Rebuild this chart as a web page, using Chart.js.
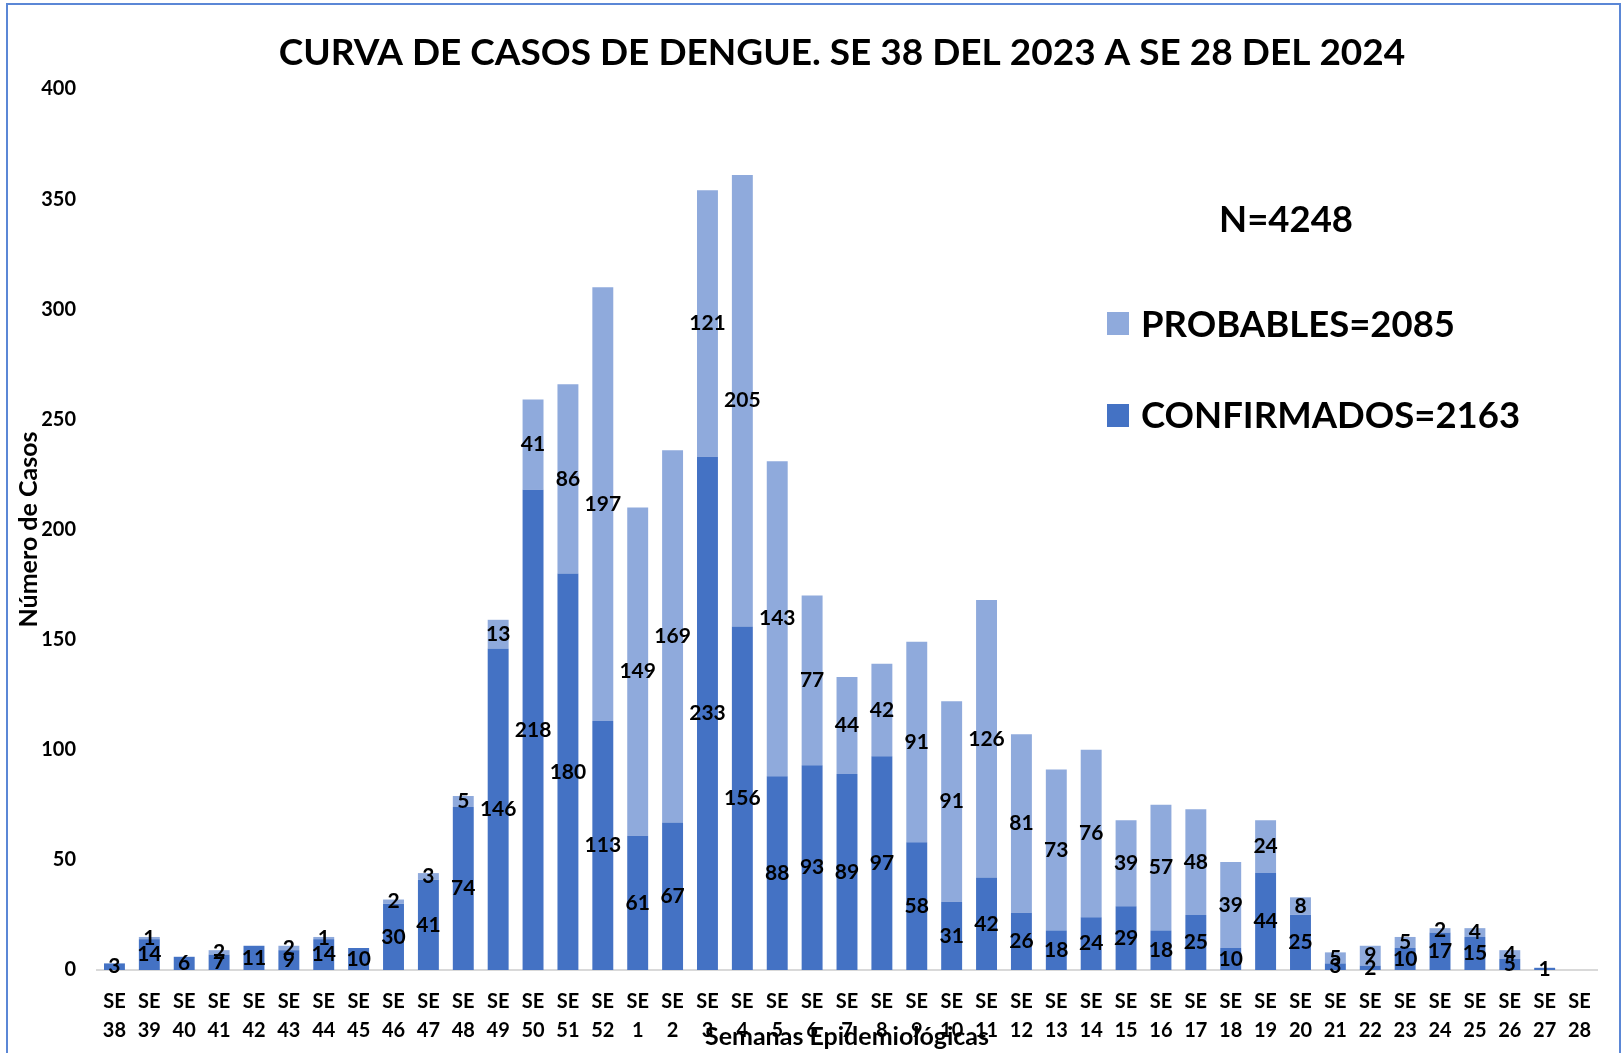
<!DOCTYPE html>
<html>
<head>
<meta charset="utf-8">
<script src="https://cdn.jsdelivr.net/npm/chart.js@4.4.1/dist/chart.umd.min.js"></script>
<style>
  html, body { margin: 0; padding: 0; background: #fff; }
  #wrap { width: 1623px; height: 1053px; position: relative; }
</style>
</head>
<body>
<div id="wrap"><canvas id="chart" width="1623" height="1053"></canvas></div>
<script>
const FONT = "Lato, 'Open Sans', sans-serif";

const weeks = [
  "38", "39", "40", "41", "42", "43", "44", "45", "46", "47", "48", "49", "50", "51", "52",
  "1", "2", "3", "4", "5", "6", "7", "8", "9", "10", "11", "12", "13", "14", "15", "16",
  "17", "18", "19", "20", "21", "22", "23", "24", "25", "26", "27", "28"
];

const confirmados = [
  3, 14, 6, 7, 11, 9, 14, 10, 30, 41, 74, 146, 218, 180, 113,
  61, 67, 233, 156, 88, 93, 89, 97, 58, 31, 42, 26, 18, 24, 29, 18,
  25, 10, 44, 25, 3, 2, 10, 17, 15, 5, 1, null
];

const probables = [
  null, 1, null, 2, null, 2, 1, null, 2, 3, 5, 13, 41, 86, 197,
  149, 169, 121, 205, 143, 77, 44, 42, 91, 91, 126, 81, 73, 76, 39, 57,
  48, 39, 24, 8, 5, 9, 5, 2, 4, 4, null, null
];

const yTicks = [0, 50, 100, 150, 200, 250, 300, 350, 400];

const titleText = "CURVA DE CASOS DE DENGUE. SE 38 DEL 2023 A SE 28 DEL 2024";
const totalText = "N=4248";
const legendProbables = "PROBABLES=2085";
const legendConfirmados = "CONFIRMADOS=2163";

const colConf = "#4472C4";
const colProb = "#8FAADC";

// labels in the middle of every stacked segment
const segmentLabels = {
  id: "segmentLabels",
  afterDatasetsDraw(chart) {
    const ctx = chart.ctx;
    ctx.save();
    ctx.font = "bold 21px " + FONT;
    ctx.fillStyle = "#000";
    ctx.textAlign = "center";
    ctx.textBaseline = "middle";
    chart.data.datasets.forEach((ds, i) => {
      const meta = chart.getDatasetMeta(i);
      meta.data.forEach((bar, j) => {
        const v = ds.data[j];
        if (v == null || v === 0) return;
        ctx.fillText(String(v), bar.x, (bar.y + bar.base) / 2);
      });
    });
    ctx.restore();
  }
};

// frame, title, N, legend and the x title
const decorations = {
  id: "decorations",
  beforeDraw(chart) {
    const ctx = chart.ctx;
    ctx.save();
    ctx.fillStyle = "#fff";
    ctx.fillRect(0, 0, chart.width, chart.height);
    ctx.restore();
  },
  afterDraw(chart) {
    const ctx = chart.ctx;
    const area = chart.chartArea;
    ctx.save();

    ctx.strokeStyle = "#5B87D6";
    ctx.lineWidth = 2;
    ctx.strokeRect(7, 4, 1613, 1080);

    ctx.fillStyle = "#000";
    ctx.textBaseline = "middle";

    ctx.textAlign = "center";
    ctx.font = "bold 37px " + FONT;
    ctx.fillText(titleText, 842, 53);

    ctx.font = "bold 36.5px " + FONT;
    ctx.fillText(totalText, 1286, 220);

    ctx.textAlign = "left";
    ctx.fillStyle = colProb;
    ctx.fillRect(1107, 312, 22, 23);
    ctx.fillStyle = colConf;
    ctx.fillRect(1107, 404, 22, 23);
    ctx.fillStyle = "#000";
    ctx.fillText(legendProbables, 1141, 325);
    ctx.fillText(legendConfirmados, 1141, 416);

    ctx.textAlign = "center";
    ctx.font = "bold 25px " + FONT;
    ctx.fillText("Semanas Epidemiológicas", (area.left + area.right) / 2, 1037);

    ctx.restore();
  }
};

new Chart(document.getElementById("chart"), {
  type: "bar",
  data: {
    labels: weeks.map(w => ["SE", w]),
    datasets: [
      {
        label: "CONFIRMADOS",
        data: confirmados,
        backgroundColor: colConf,
        barPercentage: 0.6,
        categoryPercentage: 1
      },
      {
        label: "PROBABLES",
        data: probables,
        backgroundColor: colProb,
        barPercentage: 0.6,
        categoryPercentage: 1
      }
    ]
  },
  options: {
    responsive: false,
    animation: false,
    layout: { padding: { top: 89, right: 26, bottom: 0, left: 0 } },
    plugins: {
      legend: { display: false },
      title: { display: false },
      tooltip: { enabled: false }
    },
    scales: {
      x: {
        stacked: true,
        grid: { display: false, drawTicks: false },
        border: { display: true, color: "#D9D9D9", width: 2 },
        ticks: {
          autoSkip: false,
          maxRotation: 0,
          padding: 17,
          color: "#000",
          font: { family: FONT, size: 20, weight: "bold", lineHeight: 1.45 }
        },
        afterFit(scale) { scale.height = 83; }
      },
      y: {
        stacked: true,
        min: 0,
        max: 400,
        afterBuildTicks(scale) { scale.ticks = yTicks.map(v => ({ value: v })); },
        grid: { display: false, drawTicks: false },
        border: { display: false },
        ticks: {
          padding: 21,
          color: "#000",
          font: { family: FONT, size: 20, weight: "bold" }
        },
        title: {
          display: true,
          text: "Número de Casos",
          color: "#000",
          padding: { top: 14, bottom: 0 },
          font: { family: FONT, size: 25, weight: "bold" }
        },
        afterFit(scale) { scale.width = 97; }
      }
    }
  },
  plugins: [segmentLabels, decorations]
});
</script>
</body>
</html>
